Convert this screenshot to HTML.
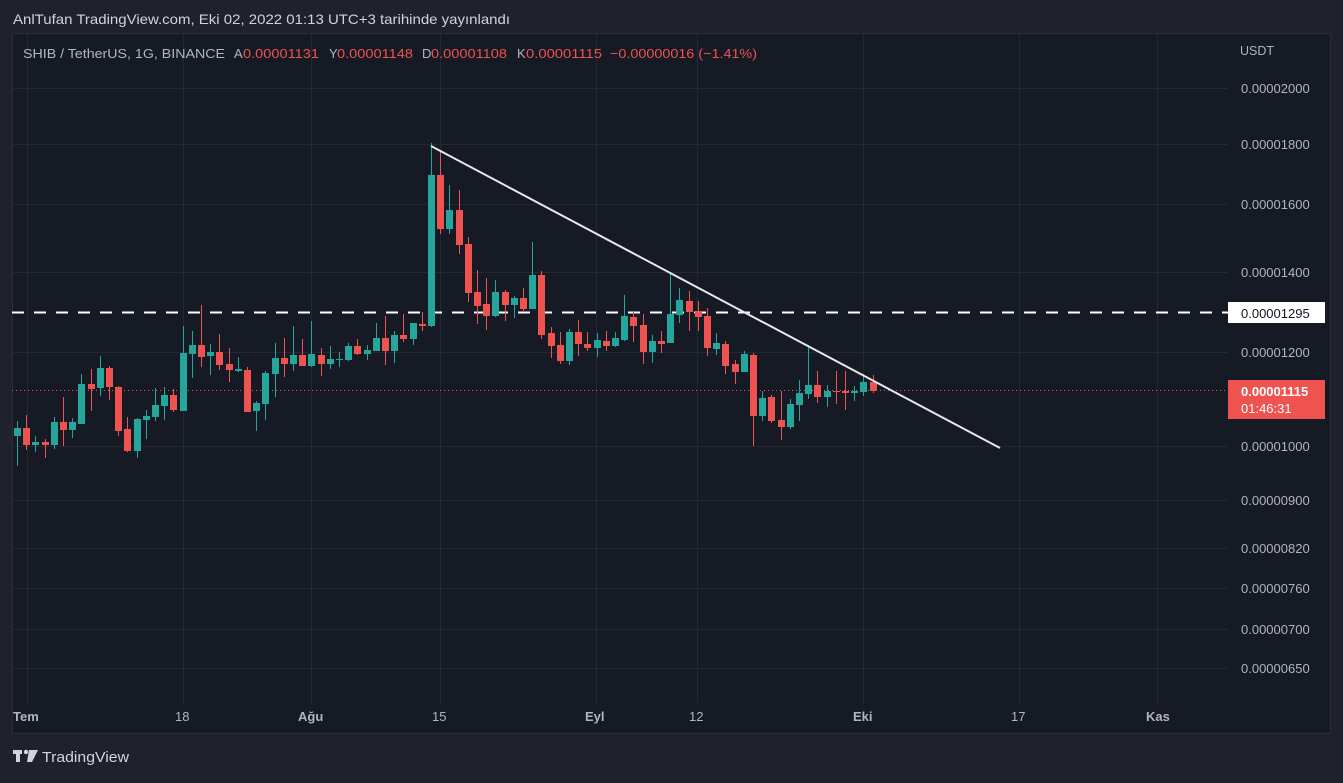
<!DOCTYPE html>
<html><head><meta charset="utf-8"><style>
body{margin:0;background:#1f222d;width:1343px;height:778px;overflow:hidden;font-family:"Liberation Sans",sans-serif}
svg text{font-family:"Liberation Sans",sans-serif}
</style></head><body>
<svg id="s" width="1343" height="778" xmlns="http://www.w3.org/2000/svg">
<rect x="0" y="0" width="1343" height="778" fill="#1f222d"/>
<rect x="12.5" y="33.5" width="1318" height="700" fill="#161a25" stroke="#2a2e39"/>
<g id="grid" stroke="#242833" stroke-width="1"></g>
<line x1="12" y1="312.5" x2="1228" y2="312.5" stroke="#fff" stroke-width="2" stroke-dasharray="12,10"/>
<line x1="12" y1="390.5" x2="1228" y2="390.5" stroke="#ef5350" stroke-width="1" stroke-dasharray="1,3"/>
<g id="c"></g>
<line x1="431" y1="146" x2="1000" y2="448" stroke="#e8e8e8" stroke-width="2"/>
<text x="13" y="24" fill="#d1d4dc" font-size="14" textLength="497" lengthAdjust="spacingAndGlyphs">AnlTufan TradingView.com, Eki 02, 2022 01:13 UTC+3 tarihinde yayınlandı</text>
<g font-size="13">
<text x="23" y="58" fill="#b2b5be" textLength="202" lengthAdjust="spacingAndGlyphs">SHIB / TetherUS, 1G, BINANCE</text>
<text x="234" y="58" fill="#b2b5be">A</text><text x="243" y="58" fill="#ef5350" textLength="76" lengthAdjust="spacingAndGlyphs">0.00001131</text>
<text x="329" y="58" fill="#b2b5be">Y</text><text x="337" y="58" fill="#ef5350" textLength="76" lengthAdjust="spacingAndGlyphs">0.00001148</text>
<text x="422" y="58" fill="#b2b5be">D</text><text x="431" y="58" fill="#ef5350" textLength="76" lengthAdjust="spacingAndGlyphs">0.00001108</text>
<text x="517" y="58" fill="#b2b5be">K</text><text x="526" y="58" fill="#ef5350" textLength="76" lengthAdjust="spacingAndGlyphs">0.00001115</text>
<text x="610" y="58" fill="#ef5350" textLength="147" lengthAdjust="spacingAndGlyphs">−0.00000016 (−1.41%)</text>
</g>
<text x="1240" y="55" fill="#b2b5be" font-size="12.5">USDT</text>
<g id="py" fill="#b2b5be" font-size="13"></g>
<rect x="1228" y="302" width="97" height="21" fill="#fff"/>
<text x="1241" y="318" fill="#131722" font-size="13">0.00001295</text>
<rect x="1228" y="380" width="97" height="39" fill="#ef5350"/>
<text x="1241" y="396" fill="#fff" font-size="13" font-weight="bold">0.00001115</text>
<text x="1241" y="413" fill="#fff" font-size="13">01:46:31</text>
<g fill="#b2b5be" font-size="13">
<text x="13" y="721" font-weight="bold">Tem</text><text x="175" y="721">18</text><text x="298" y="721" font-weight="bold">Ağu</text><text x="432" y="721">15</text><text x="585" y="721" font-weight="bold">Eyl</text><text x="689" y="721">12</text><text x="853" y="721" font-weight="bold">Eki</text><text x="1011" y="721">17</text><text x="1146" y="721" font-weight="bold">Kas</text>
</g>
<g fill="#d1d4dc"><rect x="13" y="750" width="9" height="4"/><rect x="16" y="750" width="4" height="12"/><circle cx="26" cy="752" r="2.2"/><path d="M29 750h9l-6 12h-5z"/></g>
<text x="42" y="762" fill="#d1d4dc" font-size="15" textLength="87" lengthAdjust="spacingAndGlyphs">TradingView</text>
</svg>
<script>
const NS="http://www.w3.org/2000/svg";
function el(p,t,a){const e=document.createElementNS(NS,t);for(const k in a)e.setAttribute(k,a[k]);p.appendChild(e);return e;}
const g=document.getElementById('grid');
[88,144,204,272,352,446,500,548,588,629,668].forEach(y=>el(g,'line',{x1:12,x2:1228,y1:y+.5,y2:y+.5}));
[27,183,311,440,596,697,863,1019,1157].forEach(x=>el(g,'line',{x1:x+.5,x2:x+.5,y1:34,y2:703}));
const py=document.getElementById('py');
[[88,'0.00002000'],[144,'0.00001800'],[204,'0.00001600'],[272,'0.00001400'],[352,'0.00001200'],[446,'0.00001000'],[500,'0.00000900'],[548,'0.00000820'],[588,'0.00000760'],[629,'0.00000700'],[668,'0.00000650']].forEach(([y,t])=>{const e=el(py,'text',{x:1241,y:y+5});e.textContent=t;});
const d=`g 428 436 421 466
r 428 445 415 450
g 442 445 436 452
r 442 445 439 458
g 422 445 417 449
r 422 430 397 446
g 422 430 418 438
g 384 424 374 424
r 384 389 369 411
g 368 388 356 396
r 368 387 366 400
r 387 431 386 436
r 429 451 417 452
g 419 451 418 458
g 416 420 410 439
g 405 417 388 421
g 395 406 387 420
r 395 410 389 412
g 353 411 326 411
g 345 354 331 378
r 345 357 305 367
g 352 356 344 375
r 352 365 334 370
r 364 370 348 382
g 369 371 357 372
r 370 412 367 412
g 403 411 401 431
g 373 404 371 420
g 358 374 343 397
r 358 364 338 377
g 355 364 326 371
r 355 366 339 366
g 354 366 321 367
r 355 364 348 376
g 359 364 346 369
g 359 360 352 367
g 346 360 343 361
r 346 354 339 355
g 350 354 345 360
g 338 351 323 351
r 338 351 316 365
g 335 351 331 363
r 335 339 314 342
g 323 339 323 345
r 324 326 312 331
g 175 326 143 327
r 175 229 151 234
g 210 229 185 234
r 210 245 190 254
r 244 293 237 302
r 292 306 270 324
r 304 316 278 330
g 292 316 280 317
r 292 305 290 321
g 298 305 296 318
r 298 309 288 312
g 275 309 242 309
r 275 335 271 339
r 333 346 327 358
r 345 361 332 364
g 332 361 329 365
r 332 344 320 356
r 344 348 332 351
g 340 348 333 357
r 341 346 331 351
g 338 346 332 347
g 316 340 295 341
r 317 326 312 342
r 325 352 314 364
g 341 352 335 363
r 341 344 331 353
g 314 343 273 343
g 300 315 288 323
r 301 312 291 331
r 311 317 301 331
r 316 348 308 356
g 343 349 333 355
r 344 366 341 374
r 364 372 360 384
g 354 372 351 372
r 355 416 353 446
g 398 416 391 421
r 397 421 395 423
r 420 427 391 440
g 404 427 399 429
g 393 405 380 421
g 385 394 345 399
r 385 397 371 403
g 391 397 385 407
r 391 392 371 404
r 391 393 371 410
g 391 393 386 401
g 382 392 374 396
r 382 391 375 393`.split('\n');
const c=document.getElementById('c');
d.forEach((l,i)=>{const [k,a,b,h,lo]=l.trim().split(' ');const col=k=='g'?'#26a69a':'#ef5350';
const x=Math.round(17+i*9.2);
el(c,'rect',{x:x,y:+h,width:1,height:Math.max(1,lo-h),fill:col});
el(c,'rect',{x:x-3,y:+a,width:7,height:Math.max(1,b-a),fill:col});});
</script>
</body></html>
